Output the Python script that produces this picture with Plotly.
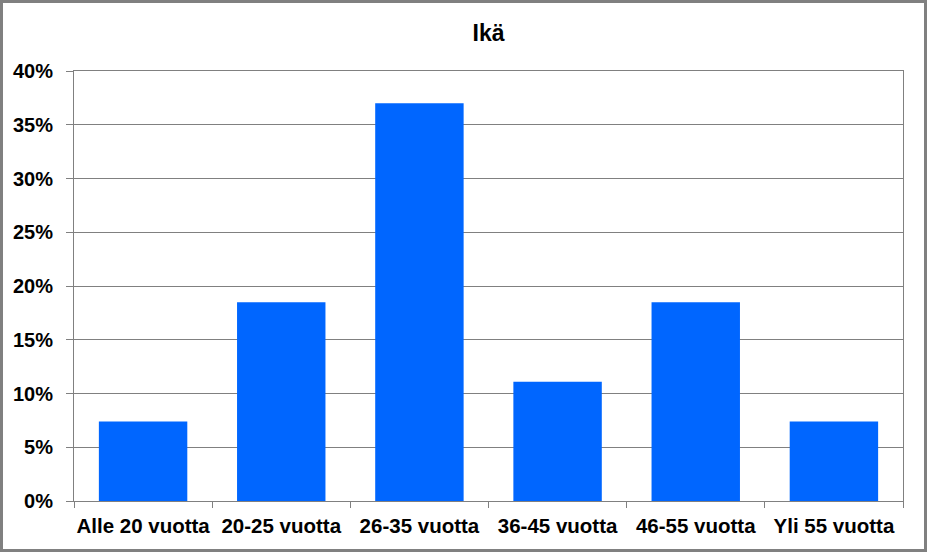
import plotly.graph_objects as go

categories = ['Alle 20 vuotta', '20-25 vuotta', '26-35 vuotta',
              '36-45 vuotta', '46-55 vuotta', 'Yli 55 vuotta']
shares = [0.074, 0.185, 0.370, 0.111, 0.185, 0.074]

W, H = 927, 552
ML, MR, MT, MB = 74, 24, 71, 51
FONT = 'Liberation Sans, Arial, sans-serif'

fig = go.Figure()
fig.add_trace(go.Bar(
    x=categories,
    y=shares,
    marker=dict(color='#0066FF', line=dict(width=0)),
    hoverinfo='x+y'
))

# outer chart border, in paper units
pw = W - ML - MR
ph = H - MT - MB
fig.add_shape(
    type='rect', xref='paper', yref='paper',
    x0=-(ML - 1.5) / pw, x1=1 + (MR - 1.5) / pw,
    y0=-(MB - 1.5) / ph, y1=1 + (MT - 1.5) / ph,
    line=dict(color='#808080', width=3), layer='below'
)

fig.update_layout(
    width=W, height=H,
    margin=dict(l=ML, r=MR, t=MT, b=MB, autoexpand=False),
    paper_bgcolor='white', plot_bgcolor='white',
    title=dict(text='Ikä', x=0.5, xref='paper', xanchor='center',
               y=1 - 33 / H, yanchor='middle',
               font=dict(family=FONT, size=23, color='black', weight='bold')),
    bargap=0.36,
    showlegend=False,
    font=dict(family=FONT, color='black'),
)
fig.update_xaxes(
    type='category', tickangle=0, automargin=False,
    showline=True, linecolor='#808080', linewidth=1, mirror=True,
    ticks='outside', tickson='boundaries', ticklen=6, tickcolor='#808080',
    ticklabelstandoff=6,
    tickfont=dict(family=FONT, size=20.5, color='black', weight='bold'),
    showgrid=False,
)
fig.update_yaxes(
    range=[0, 0.4], dtick=0.05, tickformat='.0%', automargin=False,
    showline=True, linecolor='#808080', linewidth=1, mirror=True,
    ticks='outside', ticklen=7, tickcolor='#808080',
    ticklabelstandoff=9,
    showgrid=True, gridcolor='#808080', gridwidth=1,
    zeroline=False,
    tickfont=dict(family=FONT, size=20, color='black', weight='bold'),
)

fig.write_html('out.html', config={'displayModeBar': False},
               post_script="document.body.style.margin='0';")
